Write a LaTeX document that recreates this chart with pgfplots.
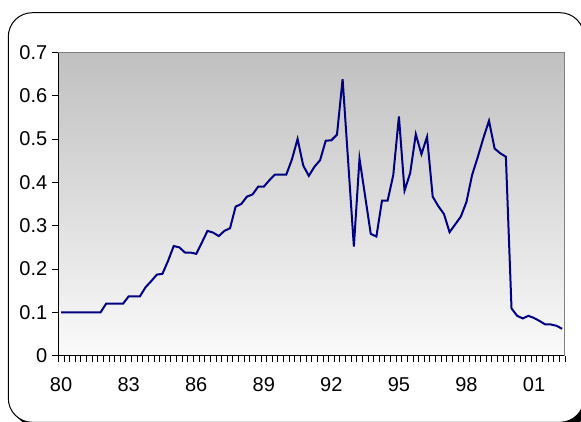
\documentclass[border=0pt]{standalone}
\usepackage{fontspec}
\setmainfont{Liberation Sans}
\usepackage{pgfplots}
\pgfplotsset{compat=1.18}
\definecolor{navyline}{RGB}{0,0,128}
\definecolor{bgtop}{RGB}{192,192,192}
\definecolor{bgbot}{RGB}{250,250,250}
\begin{document}
\begin{tikzpicture}[x=1pt,y=1pt]
\useasboundingbox (0,0) rectangle (581,421);
\begin{scope}
\clip (0,0) rectangle (581,421);
\fill[black, rounded corners=24pt] (13.3,-6.3) rectangle (589,403.3);
\draw[black, fill=white, line width=1pt, rounded corners=24pt] (8.3,-1.3) rectangle (584,408.3);
\end{scope}
\begin{axis}[
  at={(58.3pt,65.3pt)}, anchor=south west,
  scale only axis, width=506.7pt, height=303.4pt,
  xmin=-0.5, xmax=89.5, ymin=0, ymax=0.7,
  axis x line*=bottom, axis y line*=left,
  axis line style={black, line width=0.8pt},
  axis background/.style={top color=bgtop, bottom color=bgbot},
  tick align=outside,
  major tick length=6.5pt,
  xtick={-0.5,0.5,...,89.5},
  xticklabels={},
  extra x ticks={0,12,24,36,48,60,72,84},
  extra x tick labels={80,83,86,89,92,95,98,01},
  extra x tick style={major tick length=0pt},
  ytick={0,0.1,0.2,0.3,0.4,0.5,0.6,0.7},
  yticklabels={0,0.1,0.2,0.3,0.4,0.5,0.6,0.7},
  tick style={black, line width=0.8pt},
  ticklabel style={font=\fontsize{20}{24}\selectfont},
  xticklabel style={yshift=-18pt},
  yticklabel style={xshift=-1pt},
  clip=false,
]
\addplot[navyline, line width=2pt] table[x=i, y=v] {
i v
0 0.100
1 0.100
2 0.100
3 0.100
4 0.100
5 0.100
6 0.100
7 0.100
8 0.120
9 0.120
10 0.120
11 0.120
12 0.137
13 0.137
14 0.137
15 0.158
16 0.172
17 0.187
18 0.189
19 0.219
20 0.253
21 0.250
22 0.238
23 0.238
24 0.235
25 0.261
26 0.288
27 0.284
28 0.276
29 0.288
30 0.294
31 0.344
32 0.350
33 0.367
34 0.372
35 0.390
36 0.390
37 0.405
38 0.418
39 0.418
40 0.418
41 0.453
42 0.500
43 0.439
44 0.415
45 0.436
46 0.451
47 0.496
48 0.497
49 0.510
50 0.638
51 0.445
52 0.252
53 0.455
54 0.368
55 0.281
56 0.275
57 0.358
58 0.358
59 0.417
60 0.552
61 0.381
62 0.421
63 0.511
64 0.465
65 0.505
66 0.367
67 0.345
68 0.327
69 0.285
70 0.303
71 0.321
72 0.355
73 0.417
74 0.458
75 0.502
76 0.542
77 0.478
78 0.467
79 0.459
80 0.109
81 0.092
82 0.086
83 0.092
84 0.087
85 0.080
86 0.072
87 0.072
88 0.069
89 0.062
};
\draw[gray, line width=1pt] (rel axis cs:0,1) -- (rel axis cs:1,1) -- (rel axis cs:1,0);
\end{axis}
\end{tikzpicture}
\end{document}
